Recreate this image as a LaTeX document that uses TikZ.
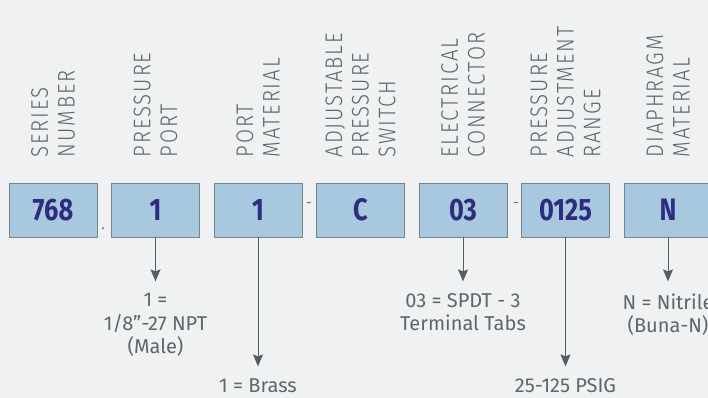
\documentclass[tikz,border=0pt]{standalone}
\usepackage{fontspec}
\setmainfont{Fira Sans}
\newfontfamily\codefont{Fira Sans}[FakeStretch=0.82]
\newfontfamily\fieldfont{Fira Sans Light}[FakeStretch=0.85,LetterSpace=8]
\usepackage{tikz}
\usetikzlibrary{arrows.meta}
\definecolor{bgcol}{HTML}{F0F1F3}
\definecolor{boxfill}{HTML}{A8C8DF}
\definecolor{boxdraw}{HTML}{77858B}
\definecolor{navy}{HTML}{2E2C7D}
\definecolor{txtgray}{HTML}{5E6668}
\definecolor{linegray}{HTML}{555E60}
\tikzstyle{code} = [rectangle, 
minimum width=88pt, 
minimum height=54pt, 
draw=boxdraw, line width=0.8pt, 
fill=boxfill, 
text=navy, 
font=\codefont\bfseries\fontsize{31}{32}\selectfont]
\tikzstyle{field} = [rotate=90, anchor=west, 
align=left, 
inner sep=0pt, 
text=txtgray, 
font=\fieldfont\fontsize{24}{26.7}\selectfont]
\tikzstyle{meaning} = [anchor=north, 
align=center, 
inner sep=1pt, 
text=txtgray, 
font=\fontsize{20}{23.3}\selectfont]
\tikzstyle{sep} = [inner sep=0pt, text=txtgray, font=\fontsize{14}{14}\selectfont]
\tikzstyle{arrow} = [line width=1pt, draw=linegray, shorten >=11pt, -{Stealth[length=12pt,width=10pt,inset=2pt]}]

\begin{document}
\begin{tikzpicture}[x=1pt, y=1pt, node distance=102.5pt]

\fill[bgcol] (0,0) rectangle (708,-398);
\useasboundingbox (0,0) rectangle (708,-398);

% part number fields
\node (series) [code] at (53,-210) {768};
\node (pport) [code, right of=series] {1};
\node (pmat) [code, right of=pport] {1};
\node (adj) [code, right of=pmat] {C};
\node (elec) [code, right of=adj] {03};
\node (range) [code, right of=elec] {0125};
\node (diaph) [code, right of=range] {N};

\node (dot1) [sep] at (103,-229) {.};
\node (dash1) [sep] at (309,-205) {-};
\node (dash2) [sep] at (516,-205) {-};

% headings
\node (lseries) [field] at ([yshift=25pt]series.north) {SERIES\\NUMBER};
\node (lpport) [field] at ([yshift=25pt]pport.north) {PRESSURE\\PORT};
\node (lpmat) [field] at ([yshift=25pt]pmat.north) {PORT\\MATERIAL};
\node (ladj) [field] at ([yshift=25pt]adj.north) {ADJUSTABLE\\PRESSURE\\SWITCH};
\node (lelec) [field] at ([yshift=25pt]elec.north) {ELECTRICAL\\CONNECTOR};
\node (lrange) [field] at ([yshift=25pt]range.north) {PRESSURE\\ADJUSTMENT\\RANGE};
\node (ldiaph) [field] at ([yshift=25pt]diaph.north) {DIAPHRAGM\\MATERIAL};

% options
\node (mport) [meaning] at ([yshift=-55pt]pport.south) {1 =\\1/8”-27 NPT\\(Male)};
\node (mmat) [meaning] at ([yshift=-140pt]pmat.south) {1 = Brass};
\node (melec) [meaning] at ([yshift=-55pt]elec.south) {03 = SPDT - 3\\Terminal Tabs};
\node (mrange) [meaning] at ([yshift=-140pt]range.south) {25-125 PSIG};
\node (mdiaph) [meaning] at ([yshift=-55pt]diaph.south) {N = Nitrile\\(Buna-N)};

\draw [arrow] (pport) -- (mport);
\draw [arrow] (pmat) -- (mmat);
\draw [arrow] (elec) -- (melec);
\draw [arrow] (range) -- (mrange);
\draw [arrow] (diaph) -- (mdiaph);

\end{tikzpicture}
\end{document}
